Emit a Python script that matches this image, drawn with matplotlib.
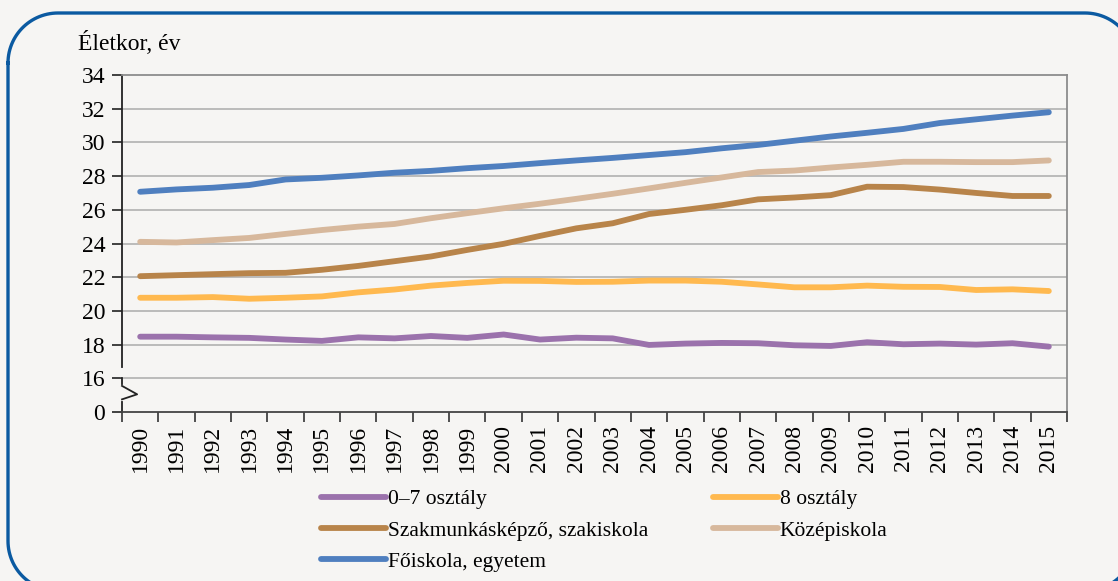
import matplotlib
matplotlib.use("Agg")
import matplotlib.pyplot as plt
import matplotlib.transforms as mtransforms
from matplotlib.lines import Line2D
import numpy as np

years = [str(y) for y in range(1990, 2016)]

elem_0_7 = [18.47, 18.47, 18.43, 18.40, 18.30, 18.22, 18.43, 18.37, 18.51, 18.40, 18.60, 18.30, 18.41,
            18.37, 17.98, 18.06, 18.10, 18.08, 17.96, 17.92, 18.14, 18.02, 18.06, 18.00, 18.08, 17.88]
elem_8 = [20.78, 20.78, 20.82, 20.72, 20.78, 20.86, 21.10, 21.27, 21.50, 21.66, 21.79, 21.78, 21.72,
          21.73, 21.80, 21.80, 21.73, 21.57, 21.40, 21.40, 21.50, 21.43, 21.42, 21.24, 21.28, 21.18]
szakmunkas = [22.06, 22.12, 22.18, 22.24, 22.26, 22.44, 22.67, 22.95, 23.23, 23.62, 23.98, 24.45, 24.90,
              25.20, 25.75, 26.00, 26.27, 26.62, 26.73, 26.87, 27.37, 27.35, 27.20, 27.00, 26.82, 26.82]
kozepiskola = [24.10, 24.06, 24.20, 24.33, 24.57, 24.80, 25.00, 25.16, 25.50, 25.80, 26.09, 26.36, 26.65,
               26.95, 27.27, 27.60, 27.92, 28.24, 28.33, 28.51, 28.67, 28.85, 28.85, 28.83, 28.83, 28.93]
foiskola = [27.07, 27.21, 27.31, 27.47, 27.80, 27.90, 28.04, 28.20, 28.31, 28.47, 28.60, 28.77, 28.93,
            29.08, 29.25, 29.42, 29.65, 29.85, 30.10, 30.35, 30.57, 30.80, 31.15, 31.37, 31.59, 31.79]

series = [
    ("0\u20137 osztály", elem_0_7, "#9b72ac"),
    ("8 osztály", elem_8, "#ffb94f"),
    ("Szakmunkásképző, szakiskola", szakmunkas, "#b8844a"),
    ("Középiskola", kozepiskola, "#d7b89c"),
    ("Főiskola, egyetem", foiskola, "#4f7fbf"),
]

ytick_vals = [14, 16, 18, 20, 22, 24, 26, 28, 30, 32, 34]
ytick_labels = ["0", "16", "18", "20", "22", "24", "26", "28", "30", "32", "34"]

plt.rcParams["font.family"] = ["Liberation Serif", "DejaVu Serif"]
bg = "#f6f5f3"

fig = plt.figure(figsize=(11.18, 5.81), dpi=100)
fig.patch.set_facecolor(bg)

# rounded frame (in inches), runs off the right and bottom edges
def rounded_box(x0, y0, x1, y1, r, n=30):
    xs, ys = [], []
    corners = [(x0 + r, y1 - r, 180, 90), (x1 - r, y1 - r, 90, 0),
               (x1 - r, y0 + r, 0, -90), (x0 + r, y0 + r, -90, -180)]
    for cx, cy, a0, a1 in corners:
        t = np.radians(np.linspace(a0, a1, n))
        xs.extend(cx + r * np.cos(t))
        ys.extend(cy + r * np.sin(t))
    xs.append(xs[0])
    ys.append(ys[0])
    return xs, ys

bx, by = rounded_box(0.08, -0.10, 11.35, 5.68, 0.5)
fig.add_artist(Line2D(bx, by, transform=fig.dpi_scale_trans, color="#0b5aa1", linewidth=2.4))

ax = fig.add_axes([122 / 1118, 1 - 412 / 581, (1067 - 122) / 1118, (412 - 75) / 581])
ax.set_facecolor(bg)

x = list(range(len(years)))
for name, vals, col in series:
    ax.plot(x, vals, color=col, linewidth=4.2, solid_capstyle="round", label=name, zorder=3)

ax.set_xlim(-0.5, len(years) - 0.5)
ax.set_ylim(14, 34)
ax.set_yticks(ytick_vals)
ax.set_yticklabels(ytick_labels, fontsize=17)
for v in ytick_vals[1:-1]:
    ax.axhline(v, color="#ababab", linewidth=1.1, zorder=1)

ax.set_xticks(x)
ax.set_xticklabels(years, rotation=90, fontsize=17)
ax.set_xticks([i - 0.5 for i in range(len(years) + 1)], minor=True)
ax.tick_params(axis="x", which="major", length=0, pad=9)
ax.tick_params(axis="x", which="minor", length=7, width=1.2, color="#333333", direction="out")
ax.tick_params(axis="y", length=7, width=1.2, color="#222222", direction="out", pad=5)

for s in ["top", "right"]:
    ax.spines[s].set_color("#8c8c8c")
    ax.spines[s].set_linewidth(1.3)
ax.spines["left"].set_color("#222222")
ax.spines["bottom"].set_color("#444444")
ax.spines["left"].set_linewidth(1.3)
ax.spines["bottom"].set_linewidth(1.3)

# axis break mark on the y axis
tr = mtransforms.blended_transform_factory(ax.transAxes, ax.transData)
ax.plot([0, 0], [16.22, 16.47], transform=tr, color=bg, linewidth=3, clip_on=False, zorder=5)
ax.plot([0, 0], [14.8, 15.5], transform=tr, color=bg, linewidth=3, clip_on=False, zorder=5)
ax.plot([0, 0.016, 0], [15.55, 15.05, 14.75], transform=tr, color="#222222",
        linewidth=1.3, clip_on=False, zorder=6)

fig.text(78 / 1118, 1 - 43 / 581, "Életkor, év", fontsize=17, va="center", ha="left")

# legend filled row by row: reorder for matplotlib's column-major layout
handles, labels = ax.get_legend_handles_labels()
order = [0, 2, 4, 1, 3]
leg = fig.legend([handles[i] for i in order], [labels[i] for i in order], ncol=2, loc="upper left",
                 bbox_to_anchor=(302 / 1118, 1 - 470 / 581), frameon=False,
                 fontsize=15.5, handlelength=3.0, handletextpad=0.1,
                 columnspacing=3.0, labelspacing=0.52)
for line in leg.get_lines():
    line.set_linewidth(4.2)

fig.savefig("out.png", dpi=100, facecolor=bg)
